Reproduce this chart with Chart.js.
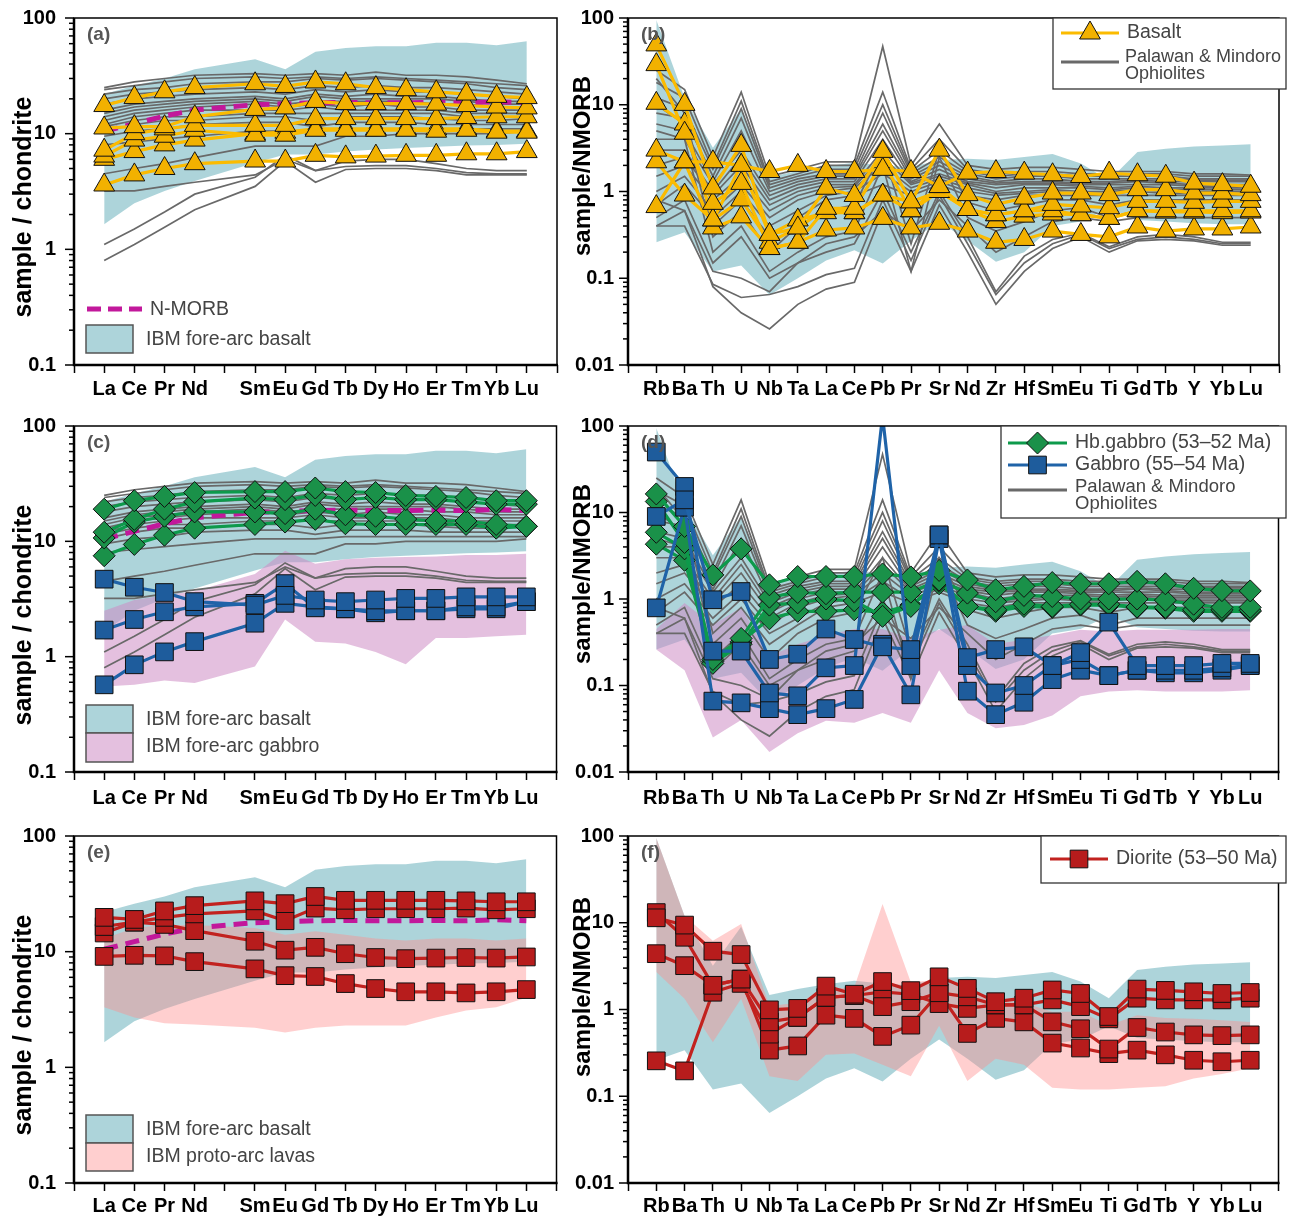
<!DOCTYPE html>
<html>
<head>
<meta charset="utf-8">
<script src="https://cdn.jsdelivr.net/npm/chart.js@4.4.1/dist/chart.umd.min.js"></script>
<style>
  body { margin: 0; background: #fff; width: 1292px; height: 1217px; position: relative; overflow: hidden; }
  canvas { position: absolute; }
</style>
</head>
<body>
<canvas id="pa" width="570" height="410" style="left:0;top:0"></canvas>
<canvas id="pb" width="722" height="410" style="left:570px;top:0"></canvas>
<canvas id="pc" width="570" height="410" style="left:0;top:410px"></canvas>
<canvas id="pd" width="722" height="410" style="left:570px;top:410px"></canvas>
<canvas id="pe" width="570" height="397" style="left:0;top:820px"></canvas>
<canvas id="pf" width="722" height="397" style="left:570px;top:820px"></canvas>
<script>
// categories (Pm slot left empty on the REE axis)
const reeLabels = ['La', 'Ce', 'Pr', 'Nd', '', 'Sm', 'Eu', 'Gd', 'Tb', 'Dy', 'Ho', 'Er', 'Tm', 'Yb', 'Lu'];
const spiderLabels = ['Rb', 'Ba', 'Th', 'U', 'Nb', 'Ta', 'La', 'Ce', 'Pb', 'Pr', 'Sr', 'Nd', 'Zr', 'Hf', 'Sm', 'Eu', 'Ti', 'Gd', 'Tb', 'Y', 'Yb', 'Lu'];
const reeTicks = [0.1, 1, 10, 100];
const spiderTicks = [0.01, 0.1, 1, 10, 100];

// reference fields, chondrite normalised
const forearcBasaltReeHigh = [22, 26, 30, 36, null, 44, 36, 51, 55, 57, 57, 61, 61, 58, 63];
const forearcBasaltReeLow = [1.65, 2.5, 3.2, 3.9, null, 5.6, 6.6, 6.6, 7.0, 7.3, 7.5, 7.7, 7.9, 8.0, 8.2];
const forearcGabbroReeHigh = [2.5, 3.1, 3.4, 3.7, null, 5.2, 8.3, 6.4, 7.0, 7.2, 7.3, 7.4, 7.6, 7.6, 7.8];
const forearcGabbroReeLow = [0.55, 0.57, 0.62, 0.59, null, 0.82, 2.1, 1.35, 1.3, 1.1, 0.86, 1.45, 1.45, 1.5, 1.55];
const protoArcReeHigh = [13, 16, 17, 17, null, 16, 14, 15, 14, 13, 12.5, 13, 13, 12.5, 13];
const protoArcReeLow = [3.3, 2.7, 2.4, 2.35, null, 2.2, 2.0, 2.2, 2.3, 2.3, 2.3, 2.7, 3.1, 3.3, 4.0];
const nmorbRee = [10.5, 12.2, 14.2, 16.0, null, 17.8, 18.1, 18.5, 18.6, 18.5, 18.5, 18.6, 18.5, 18.9, 18.5];

// reference fields, N-MORB normalised
const forearcBasaltSpiderHigh = [95, 12, 3.2, 9, 1.47, 1.72, 1.95, 2.14, 2.0, 1.9, 2.3, 2.38, 2.3, 2.5, 2.7, 2.1, 1.35, 2.85, 3.1, 3.3, 3.4, 3.5];
const forearcBasaltSpiderLow = [0.26, 0.34, 0.12, 0.14, 0.064, 0.1, 0.16, 0.21, 0.148, 0.27, 0.45, 0.27, 0.155, 0.2, 0.4, 0.45, 0.64, 0.47, 0.45, 0.43, 0.42, 0.42];
const forearcGabbroSpiderHigh = [0.45, 0.9, 0.5, 0.8, 0.22, 0.3, 0.38, 0.45, 0.45, 0.35, 0.44, 0.5, 0.3, 0.34, 0.38, 0.44, 0.42, 0.44, 0.44, 0.44, 0.45, 0.45];
const forearcGabbroSpiderLow = [0.26, 0.15, 0.025, 0.04, 0.017, 0.028, 0.039, 0.037, 0.048, 0.037, 0.15, 0.048, 0.032, 0.035, 0.045, 0.075, 0.085, 0.088, 0.085, 0.085, 0.085, 0.088];
const protoArcSpiderHigh = [95, 12, 6.2, 9.7, 1.1, 1.2, 1.7, 1.8, 16.4, 2.06, 2.2, 1.7, 1.3, 1.2, 0.94, 0.94, 0.66, 0.86, 0.8, 0.78, 0.75, 0.72];
const protoArcSpiderLow = [2.7, 1.33, 0.42, 1.33, 0.17, 0.15, 0.3, 0.31, 0.23, 0.17, 0.65, 0.15, 0.27, 0.23, 0.125, 0.12, 0.12, 0.125, 0.13, 0.16, 0.18, 0.21];

// Palawan & Mindoro ophiolites
const ophioliteRee = [
  [25, 28, 30, 32, null, 33, 32, 33, 32, 34, 32, 32, 31, 29, 27],
  [24, 26, 28, 30, null, 31, 30, 31, 30, 31, 30, 29, 28, 27, 26],
  [22, 24, 25, 27, null, 28, 28, 30, 29, 30, 29, 28, 27, 25, 24],
  [20, 22, 23, 24, null, 25, 24, 26, 25, 26, 25, 25, 24, 23, 22],
  [18, 20, 21, 22, null, 23, 22, 24, 23, 24, 23, 23, 22, 21, 20],
  [16, 18, 19, 20, null, 21, 20, 22, 21, 22, 21, 21, 20, 19, 19],
  [15, 17, 18, 19, null, 20, 19, 21, 20, 20, 20, 20, 19, 18, 18],
  [14, 16, 17, 18, null, 19, 18, 19, 19, 19, 19, 18, 18, 17, 17],
  [13, 15, 16, 17, null, 18, 17, 18, 17, 18, 17, 17, 16, 16, 16],
  [12, 14, 15, 16, null, 16, 16, 17, 16, 16, 16, 16, 15, 15, 15],
  [11.5, 13, 14, 14, null, 15, 15, 15, 15, 15, 15, 15, 14, 14, 14],
  [10.5, 12, 13, 13, null, 14, 14, 13, 14, 14, 14, 13.5, 13, 13, 13.5],
  [9.5, 10.5, 11, 12, null, 12.5, 12.5, 11.5, 12.5, 12.5, 12.5, 12, 12, 12, 12],
  [8, 8.5, 9, 9.5, null, 10.5, 10.5, 10.5, 11, 11, 11, 11, 11, 11, 11],
  [4.5, 5, 5.5, 6.2, null, 7.8, 7.8, 7.8, 9.5, 9.5, 10, 10, 10, 10, 10.5],
  [3.2, 3.2, 3.5, 3.8, null, 4.4, 6.0, 4.8, 5.8, 6.0, 6.0, 5.5, 5.0, 4.8, 4.8],
  [1.1, 1.5, 2.1, 3.0, null, 4.2, 6.5, 4.8, 5.2, 5.3, 5.3, 5.0, 4.6, 4.5, 4.5],
  [0.8, 1.1, 1.55, 2.2, null, 3.5, 5.8, 3.8, 4.9, 5.0, 5.0, 4.8, 4.4, 4.4, 4.4]
];
const ophioliteSpider = [
  [25, 15, 2.5, 14, 1.5, 1.8, 2.2, 2.2, 47, 2.0, 6.0, 2.0, 1.8, 1.9, 1.9, 1.8, 1.7, 1.7, 1.7, 1.6, 1.6, 1.55],
  [18, 12, 2.0, 11, 1.3, 1.6, 2.0, 2.0, 14, 1.8, 4.0, 1.8, 1.6, 1.7, 1.7, 1.6, 1.6, 1.6, 1.6, 1.5, 1.5, 1.5],
  [12, 9, 1.8, 9, 1.2, 1.5, 1.8, 1.8, 10, 1.7, 3.0, 1.7, 1.5, 1.6, 1.6, 1.5, 1.5, 1.5, 1.5, 1.4, 1.4, 1.4],
  [8, 7, 1.5, 7, 1.1, 1.4, 1.6, 1.6, 8, 1.6, 2.5, 1.6, 1.4, 1.5, 1.5, 1.4, 1.4, 1.4, 1.4, 1.35, 1.35, 1.35],
  [6, 5, 1.3, 5, 1.0, 1.3, 1.5, 1.5, 6, 1.5, 2.2, 1.5, 1.3, 1.4, 1.4, 1.3, 1.3, 1.35, 1.3, 1.3, 1.3, 1.3],
  [4, 4, 1.2, 3, 0.9, 1.2, 1.4, 1.4, 5, 1.4, 2.0, 1.4, 1.25, 1.3, 1.3, 1.25, 1.25, 1.3, 1.25, 1.2, 1.2, 1.2],
  [3, 3, 1.0, 2.5, 0.8, 1.1, 1.3, 1.3, 4, 1.3, 1.8, 1.3, 1.2, 1.25, 1.25, 1.2, 1.2, 1.2, 1.2, 1.15, 1.15, 1.15],
  [2, 2.5, 0.9, 2, 0.7, 1.0, 1.2, 1.2, 3, 1.25, 1.6, 1.25, 1.1, 1.2, 1.2, 1.15, 1.1, 1.15, 1.1, 1.1, 1.1, 1.1],
  [1.5, 2, 0.8, 1.5, 0.6, 0.9, 1.1, 1.15, 2.5, 1.2, 1.5, 1.2, 1.0, 1.1, 1.1, 1.1, 1.05, 1.1, 1.05, 1.05, 1.05, 1.05],
  [1.0, 1.5, 0.6, 1.2, 0.5, 0.8, 1.0, 1.1, 2.0, 1.1, 1.4, 1.1, 0.95, 1.0, 1.05, 1.0, 1.0, 1.05, 1.0, 1.0, 1.0, 1.0],
  [0.7, 1.2, 0.5, 1.0, 0.4, 0.6, 0.9, 1.0, 1.6, 1.0, 1.3, 1.0, 0.9, 0.95, 1.0, 0.95, 0.95, 1.0, 0.95, 0.95, 0.95, 0.95],
  [20, 8, 0.4, 0.8, 0.3, 0.5, 0.8, 0.9, 1.2, 0.9, 1.2, 0.9, 0.8, 0.9, 0.9, 0.9, 0.9, 0.9, 0.9, 0.9, 0.9, 0.9],
  [10, 6, 0.3, 0.6, 0.2, 0.4, 0.6, 0.7, 3.0, 0.25, 3.0, 0.75, 0.6, 0.7, 0.8, 0.8, 0.7, 0.8, 0.8, 0.8, 0.8, 0.8],
  [5, 4, 0.2, 0.4, 0.12, 0.2, 0.3, 0.35, 2.0, 0.12, 2.5, 0.5, 0.35, 0.45, 0.6, 0.65, 0.5, 0.6, 0.6, 0.6, 0.6, 0.6],
  [0.5, 0.8, 0.15, 0.3, 0.1, 0.15, 0.25, 0.3, 0.6, 0.35, 0.8, 0.4, 0.2, 0.3, 0.45, 0.5, 0.45, 0.5, 0.5, 0.5, 0.5, 0.5],
  [0.4, 0.6, 0.08, 0.04, 0.026, 0.05, 0.075, 0.09, 0.6, 0.12, 0.7, 0.2, 0.05, 0.12, 0.22, 0.3, 0.2, 0.27, 0.28, 0.27, 0.24, 0.24],
  [0.4, 0.4, 0.085, 0.06, 0.065, 0.08, 0.11, 0.13, 0.8, 0.16, 0.9, 0.25, 0.065, 0.15, 0.25, 0.32, 0.22, 0.28, 0.3, 0.28, 0.25, 0.25],
  [0.8, 0.6, 0.12, 0.1, 0.07, 0.15, 0.2, 0.25, 1.0, 0.2, 1.0, 0.3, 0.07, 0.18, 0.28, 0.33, 0.23, 0.3, 0.32, 0.3, 0.26, 0.26]
];

// samples
const basaltRee = [
  [17.5, 20.5, 23, 25, null, 27, 25.6, 28, 27, 25, 24, 23, 22, 21, 20.5],
  [11.2, 11.5, 11.5, 14, null, 16.2, 16.7, 19, 18.2, 18.2, 18.2, 18, 17.5, 17, 16.7],
  [7.2, 10, 11, 11.8, null, 11.8, 11.8, 13.5, 13.5, 13.5, 13.5, 13.5, 13.8, 14, 14],
  [6.4, 8.8, 9.5, 10.7, null, 9.7, 9.7, 10.7, 10.7, 10.7, 10.7, 10.5, 10.7, 10.3, 10.3],
  [6.0, 7.0, 8.0, 8.8, null, 10, 10.3, 11, 11, 11, 11, 11, 11, 10.5, 10.5],
  [3.6, 4.4, 5.0, 5.5, null, 5.8, 5.8, 6.5, 6.3, 6.4, 6.5, 6.5, 6.7, 6.7, 7.0]
];
const basaltSpider = [
  [3.0, 2.2, 2.2, 2.0, 1.7, 2.0, 1.7, 1.7, 1.8, 1.7, 1.14, 1.63, 1.7, 1.63, 1.56, 1.49, 1.63, 1.56, 1.5, 1.25, 1.2, 1.15],
  [49, 10.1, 1.1, 3.4, 0.32, 0.38, 1.09, 0.9, 2.9, 0.76, 3.0, 0.92, 0.71, 0.84, 0.96, 0.96, 0.92, 1.05, 1.05, 0.96, 0.96, 0.92],
  [29, 4.7, 0.73, 1.24, 0.22, 0.26, 0.64, 0.64, 2.2, 0.6, 1.14, 0.62, 0.54, 0.6, 0.71, 0.68, 0.65, 0.77, 0.77, 0.75, 0.77, 0.77],
  [10.4, 6.0, 0.47, 2.0, 0.32, 0.47, 0.57, 0.57, 0.91, 0.6, 1.0, 0.62, 0.54, 0.6, 0.6, 0.54, 0.49, 0.6, 0.6, 0.6, 0.6, 0.6],
  [2.2, 0.91, 0.47, 0.8, 0.26, 0.38, 0.64, 0.57, 0.91, 0.76, 1.0, 0.62, 0.45, 0.52, 0.55, 0.54, 0.49, 0.6, 0.58, 0.58, 0.57, 0.58],
  [0.67, 2.2, 0.38, 0.51, 0.22, 0.26, 0.36, 0.38, 0.49, 0.38, 0.43, 0.35, 0.26, 0.28, 0.35, 0.32, 0.3, 0.39, 0.35, 0.37, 0.37, 0.39]
];
const hbGabbroRee = [
  [19, 22.5, 24.5, 26.5, null, 27, 27, 29, 27, 26.5, 25, 24.5, 24, 22.5, 22.5],
  [12, 15.5, 19, 22, null, 23.7, 23, 25, 23, 24, 23, 23, 22, 21, 21],
  [10.7, 14.7, 16.5, 18, null, 18, 17.4, 19, 17, 16.5, 15.6, 15, 15, 14, 13.5],
  [7.5, 9.4, 11.3, 13, null, 14, 14.7, 15.5, 14.2, 14, 14, 14, 14, 13, 13.5]
];
const hbGabbroSpider = [
  [16.4, 6.9, 1.9, 3.8, 1.46, 1.82, 1.82, 1.82, 1.95, 1.8, 2.14, 1.66, 1.28, 1.4, 1.55, 1.5, 1.5, 1.6, 1.5, 1.33, 1.25, 1.24],
  [13.4, 4.5, 0.2, 0.35, 1.05, 1.19, 1.15, 1.2, 1.2, 1.2, 1.66, 1.17, 0.93, 1.1, 1.07, 1.0, 1.0, 1.0, 0.97, 0.87, 0.8, 0.8],
  [5.9, 3.8, 0.18, 0.3, 0.85, 0.9, 1.0, 0.95, 0.63, 0.82, 1.6, 0.82, 0.75, 0.87, 0.82, 0.87, 0.87, 0.81, 0.8, 0.75, 0.75, 0.74],
  [4.3, 2.8, 0.19, 0.32, 0.59, 0.72, 0.72, 0.75, 0.7, 0.85, 1.5, 0.82, 0.72, 0.82, 0.8, 0.85, 0.85, 0.8, 0.78, 0.72, 0.72, 0.72]
];
const gabbroRee = [
  [4.7, 4.0, 3.6, 3.0, null, 2.8, 3.4, 3.1, 3.0, 3.1, 3.2, 3.2, 3.3, 3.3, 3.3],
  [1.7, 2.1, 2.45, 2.7, null, 2.9, 4.3, 2.65, 2.6, 2.5, 2.5, 2.5, 2.7, 2.7, 3.0],
  [0.57, 0.85, 1.1, 1.35, null, 1.95, 2.9, 2.7, 2.6, 2.4, 2.5, 2.5, 2.6, 2.6, 3.0]
];
const gabbroSpider = [
  [9.0, 14, 0.98, 1.22, 0.2, 0.23, 0.45, 0.34, 0.28, 0.26, 5.5, 0.21, 0.26, 0.28, 0.17, 0.24, 0.54, 0.17, 0.17, 0.17, 0.18, 0.18],
  [50, 20, 0.25, 0.25, 0.082, 0.076, 0.16, 0.17, 130, 0.17, 5.5, 0.17, 0.082, 0.1, 0.17, 0.2, 0.13, 0.15, 0.15, 0.15, 0.16, 0.17],
  [0.79, 11.5, 0.066, 0.063, 0.054, 0.046, 0.054, 0.069, 0.3, 0.078, 5.0, 0.086, 0.046, 0.064, 0.117, 0.15, 0.13, 0.15, 0.14, 0.14, 0.15, 0.17]
];
const dioriteRee = [
  [19.8, 19, 22.5, 25, null, 27.5, 26, 30, 27.8, 27.8, 27.8, 27.8, 27.5, 27, 27],
  [16.5, 18, 19.8, 21.2, null, 22.5, 18.5, 23.8, 23, 23.5, 23.5, 23.5, 23.8, 23, 23.5],
  [14.5, 18, 17.2, 15.2, null, 12.3, 10.3, 10.9, 9.6, 8.9, 8.7, 8.8, 8.9, 8.8, 9.0],
  [9.1, 9.3, 9.2, 8.2, null, 7.1, 6.2, 6.1, 5.3, 4.8, 4.5, 4.5, 4.4, 4.5, 4.7]
];
const dioriteSpider = [
  [11.4, 9.4, 4.7, 4.3, 0.99, 1.03, 1.86, 1.5, 2.1, 1.65, 2.38, 1.75, 1.23, 1.35, 1.68, 1.53, 0.83, 1.72, 1.66, 1.6, 1.53, 1.57],
  [13.1, 6.8, 1.9, 2.24, 0.72, 0.81, 1.38, 1.45, 1.08, 1.23, 1.56, 1.4, 1.13, 1.13, 1.29, 1.08, 0.78, 1.35, 1.29, 1.29, 1.29, 1.35],
  [0.256, 0.196, 1.58, 2.0, 0.52, 0.81, 1.38, 1.45, 1.6, 1.5, 1.17, 1.03, 1.13, 1.13, 0.72, 0.6, 0.35, 0.62, 0.55, 0.51, 0.5, 0.51],
  [4.4, 3.2, 1.9, 2.24, 0.34, 0.38, 0.86, 0.79, 0.49, 0.66, 1.56, 0.53, 0.79, 0.72, 0.41, 0.36, 0.31, 0.34, 0.30, 0.26, 0.25, 0.26]
];

// styles
const FONT = '"Liberation Sans", Arial, Helvetica, sans-serif';
const TEAL = 'rgba(118, 184, 194, 0.6)';
const GABBRO_PINK = 'rgba(205, 140, 196, 0.55)';
const PROTO_PINK = 'rgba(255, 140, 140, 0.42)';
const MORB = '#c2189b';
const GRAY = '#696969';
const basaltStyle = { line: '#fbbb00', fill: '#f2b100', shape: 'triangle', r: 12 };
const hbStyle = { line: '#0d9a4b', fill: '#1a9149', shape: 'rectRot', r: 11 };
const gabbroStyle = { line: '#1f63a8', fill: '#1e5c9c', shape: 'rect', r: 12.5 };
const dioriteStyle = { line: '#c2221f', fill: '#b71c1c', shape: 'rect', r: 12.5 };

function pts(vals) {
    const out = [];
    vals.forEach((v, i) => { if (v !== null) out.push({ x: i, y: v }); });
    return out;
}

function fieldSets(high, low, color, order) {
    return [
        { data: pts(high), fill: '+1', backgroundColor: color, borderColor: 'rgba(0,0,0,0)', borderWidth: 0, pointRadius: 0, order: order },
        { data: pts(low), fill: false, borderColor: 'rgba(0,0,0,0)', borderWidth: 0, pointRadius: 0, order: order }
    ];
}

function graySets(rows) {
    return rows.map(r => ({ data: pts(r), borderColor: GRAY, borderWidth: 1.7, pointRadius: 0, fill: false, order: 3 }));
}

function sampleSets(rows, st) {
    return rows.map(r => ({
        data: pts(r), borderColor: st.line, borderWidth: 3.2, fill: false, order: 1,
        pointStyle: st.shape, pointRadius: st.r, pointBackgroundColor: st.fill,
        pointBorderColor: '#111', pointBorderWidth: 1
    }));
}

function morbSet() {
    return { data: pts(nmorbRee), borderColor: MORB, borderWidth: 5, borderDash: [14, 8], pointRadius: 0, fill: false, order: 2 };
}

// text, frame and legends drawn on top of each panel
const decor = {};
const panelDecor = {
    id: 'panelDecor',
    afterDraw(chart) {
        const d = decor[chart.canvas.id];
        const ctx = chart.ctx, a = chart.chartArea, y = chart.scales.y;
        ctx.save();
        ctx.strokeStyle = '#000';
        ctx.lineWidth = 1.5;
        ctx.strokeRect(a.left, a.top, a.right - a.left, a.bottom - a.top);
        ctx.lineWidth = 2.5;
        ctx.beginPath();
        ctx.moveTo(a.left, a.top);
        ctx.lineTo(a.left, a.bottom);
        ctx.lineTo(a.right + 1, a.bottom);
        ctx.stroke();

        // log ticks
        ctx.lineWidth = 1.5;
        const e0 = Math.round(Math.log10(y.min)), e1 = Math.round(Math.log10(y.max));
        for (let e = e0; e <= e1; e++) {
            for (let k = 1; k < 10; k++) {
                const v = k * Math.pow(10, e);
                if (v > y.max * 1.0001) break;
                const py = y.getPixelForValue(v);
                const len = k === 1 ? 9 : 5;
                ctx.beginPath();
                ctx.moveTo(a.left - len, py);
                ctx.lineTo(a.left, py);
                ctx.stroke();
            }
        }

        // panel tag
        ctx.fillStyle = '#555';
        ctx.font = 'bold 19px ' + FONT;
        ctx.textAlign = 'left';
        ctx.textBaseline = 'middle';
        ctx.fillText(d.tag, a.left + 13, a.top + 17);

        // axis title
        ctx.save();
        ctx.translate(d.titleX, d.titleY);
        ctx.rotate(-Math.PI / 2);
        ctx.fillStyle = '#000';
        ctx.font = 'bold ' + d.titleSize + 'px ' + FONT;
        ctx.textAlign = 'center';
        ctx.textBaseline = 'alphabetic';
        ctx.fillText(d.title, 0, 0);
        ctx.restore();

        // legend
        if (d.box) {
            ctx.fillStyle = '#fff';
            ctx.fillRect(d.box.x, d.box.y, d.box.w, d.box.h);
            ctx.strokeStyle = '#333';
            ctx.lineWidth = 1.3;
            ctx.strokeRect(d.box.x, d.box.y, d.box.w, d.box.h);
        }
        ctx.textAlign = 'left';
        ctx.textBaseline = 'middle';
        d.items.forEach(it => {
            if (it.kind === 'series') {
                ctx.strokeStyle = it.st.line;
                ctx.lineWidth = 3.2;
                ctx.setLineDash([]);
                ctx.beginPath();
                ctx.moveTo(it.x1, it.y);
                ctx.lineTo(it.x2, it.y);
                ctx.stroke();
                ctx.fillStyle = it.st.fill;
                ctx.strokeStyle = '#111';
                ctx.lineWidth = 1;
                Chart.helpers.drawPoint(ctx, { pointStyle: it.st.shape, radius: it.st.r, rotation: 0, borderWidth: 1 }, (it.x1 + it.x2) / 2, it.y);
            } else if (it.kind === 'line') {
                ctx.strokeStyle = GRAY;
                ctx.lineWidth = 3;
                ctx.setLineDash([]);
                ctx.beginPath();
                ctx.moveTo(it.x1, it.y);
                ctx.lineTo(it.x2, it.y);
                ctx.stroke();
            } else if (it.kind === 'dash') {
                ctx.strokeStyle = MORB;
                ctx.lineWidth = 5;
                ctx.setLineDash([14, 7]);
                ctx.beginPath();
                ctx.moveTo(it.x1, it.y);
                ctx.lineTo(it.x2, it.y);
                ctx.stroke();
                ctx.setLineDash([]);
            } else if (it.kind === 'patch') {
                ctx.fillStyle = '#fff';
                ctx.fillRect(it.x, it.y, it.w, it.h);
                ctx.fillStyle = it.color;
                ctx.fillRect(it.x, it.y, it.w, it.h);
                ctx.strokeStyle = '#555';
                ctx.lineWidth = 1.5;
                ctx.strokeRect(it.x, it.y, it.w, it.h);
            }
            ctx.fillStyle = '#444';
            ctx.font = (it.size || 19.5) + 'px ' + FONT;
            (it.texts || []).forEach(t => ctx.fillText(t[0], t[1], t[2]));
        });
        ctx.restore();
    }
};

function makePanel(id, cfg) {
    decor[id] = cfg.decor;
    const n = cfg.labels.length;
    return new Chart(document.getElementById(id), {
        type: 'line',
        data: { datasets: cfg.datasets },
        options: {
            responsive: false,
            animation: false,
            events: [],
            layout: { padding: { top: cfg.top, right: cfg.right, left: 0, bottom: 0 } },
            plugins: { legend: { display: false }, tooltip: { enabled: false } },
            scales: {
                x: {
                    type: 'linear', min: -1, max: n,
                    afterBuildTicks: s => {
                        const t = [];
                        for (let i = -1; i <= n; i++) t.push({ value: i });
                        s.ticks = t;
                    },
                    afterFit: s => {
                        s.height = cfg.xHeight;
                        s.paddingLeft = 0;
                        s.paddingRight = 0;
                    },
                    ticks: {
                        autoSkip: false, maxRotation: 0, minRotation: 0, padding: cfg.xPad, color: '#000',
                        font: { family: FONT, size: 20, weight: 'bold' },
                        callback: v => cfg.labels[v] || ''
                    },
                    grid: { display: true, drawOnChartArea: false, drawTicks: true, tickLength: 8, color: '#000', tickColor: '#000', tickWidth: 1.5 },
                    border: { display: false }
                },
                y: {
                    type: 'logarithmic', min: cfg.yTicks[0], max: 100,
                    afterBuildTicks: s => { s.ticks = cfg.yTicks.map(v => ({ value: v })); },
                    afterFit: s => {
                        s.width = cfg.yWidth;
                        s.paddingTop = 0;
                        s.paddingBottom = 0;
                    },
                    ticks: {
                        autoSkip: false, padding: cfg.yPad, color: '#000',
                        font: { family: FONT, size: 20, weight: 'bold' },
                        callback: v => String(v)
                    },
                    grid: { display: false },
                    border: { display: false }
                }
            }
        },
        plugins: [panelDecor]
    });
}

const leftBase = { labels: reeLabels, yTicks: reeTicks, yWidth: 74, yPad: 10, right: 11.5 };
const rightBase = { labels: spiderLabels, yTicks: spiderTicks, yWidth: 58, yPad: 6, right: 6 };

// (a) basalt REE
makePanel('pa', Object.assign({}, leftBase, {
    top: 18, xHeight: 45, xPad: 4,
    datasets: [].concat(
        fieldSets(forearcBasaltReeHigh, forearcBasaltReeLow, TEAL, 5),
        graySets(ophioliteRee),
        [morbSet()],
        sampleSets(basaltRee, basaltStyle)
    ),
    decor: {
        tag: '(a)', title: 'sample / chondrite', titleX: 31, titleY: 207, titleSize: 25,
        items: [
            { kind: 'dash', x1: 87, x2: 142, y: 309, texts: [['N-MORB', 150, 310]] },
            { kind: 'patch', x: 86, y: 325, w: 47, h: 28, color: TEAL, texts: [['IBM fore-arc basalt', 146, 340]] }
        ]
    }
}));

// (b) basalt spider
makePanel('pb', Object.assign({}, rightBase, {
    top: 18, xHeight: 45, xPad: 4,
    datasets: [].concat(
        fieldSets(forearcBasaltSpiderHigh, forearcBasaltSpiderLow, TEAL, 5),
        graySets(ophioliteSpider),
        sampleSets(basaltSpider, basaltStyle)
    ),
    decor: {
        tag: '(b)', title: 'sample/NMORB', titleX: 20, titleY: 166, titleSize: 24,
        box: { x: 483, y: 18, w: 233, h: 71 },
        items: [
            { kind: 'series', st: basaltStyle, x1: 491, x2: 549, y: 33, size: 19.5, texts: [['Basalt', 557, 33]] },
            { kind: 'line', x1: 491, x2: 549, y: 62, size: 18, texts: [['Palawan & Mindoro', 555, 57], ['Ophiolites', 555, 74]] }
        ]
    }
}));

// (c) gabbros REE
makePanel('pc', Object.assign({}, leftBase, {
    top: 16, xHeight: 48, xPad: 6,
    datasets: [].concat(
        fieldSets(forearcBasaltReeHigh, forearcBasaltReeLow, TEAL, 5),
        fieldSets(forearcGabbroReeHigh, forearcGabbroReeLow, GABBRO_PINK, 4),
        graySets(ophioliteRee),
        [morbSet()],
        sampleSets(gabbroRee, gabbroStyle),
        sampleSets(hbGabbroRee, hbStyle)
    ),
    decor: {
        tag: '(c)', title: 'sample / chondrite', titleX: 31, titleY: 205, titleSize: 25,
        items: [
            { kind: 'patch', x: 86, y: 295, w: 47, h: 28, color: TEAL, texts: [['IBM fore-arc basalt', 146, 310]] },
            { kind: 'patch', x: 86, y: 323, w: 47, h: 29, color: GABBRO_PINK, texts: [['IBM fore-arc gabbro', 146, 337]] }
        ]
    }
}));

// (d) gabbros spider
makePanel('pd', Object.assign({}, rightBase, {
    top: 16, xHeight: 48, xPad: 6,
    datasets: [].concat(
        fieldSets(forearcBasaltSpiderHigh, forearcBasaltSpiderLow, TEAL, 5),
        fieldSets(forearcGabbroSpiderHigh, forearcGabbroSpiderLow, GABBRO_PINK, 4),
        graySets(ophioliteSpider),
        sampleSets(gabbroSpider, gabbroStyle),
        sampleSets(hbGabbroSpider, hbStyle)
    ),
    decor: {
        tag: '(d)', title: 'sample/NMORB', titleX: 20, titleY: 164, titleSize: 24,
        box: { x: 431, y: 16, w: 285, h: 92 },
        items: [
            { kind: 'series', st: hbStyle, x1: 438, x2: 497, y: 33, texts: [['Hb.gabbro (53\u201352 Ma)', 505, 33]] },
            { kind: 'series', st: gabbroStyle, x1: 438, x2: 497, y: 55, texts: [['Gabbro (55\u201354 Ma)', 505, 55]] },
            { kind: 'line', x1: 438, x2: 497, y: 80, size: 18.5, texts: [['Palawan & Mindoro', 505, 77], ['Ophiolites', 505, 94]] }
        ]
    }
}));

// (e) diorite REE
makePanel('pe', Object.assign({}, leftBase, {
    top: 16, xHeight: 34, xPad: 3,
    datasets: [].concat(
        fieldSets(forearcBasaltReeHigh, forearcBasaltReeLow, TEAL, 5),
        fieldSets(protoArcReeHigh, protoArcReeLow, PROTO_PINK, 4),
        [morbSet()],
        sampleSets(dioriteRee, dioriteStyle)
    ),
    decor: {
        tag: '(e)', title: 'sample / chondrite', titleX: 31, titleY: 205, titleSize: 25,
        items: [
            { kind: 'patch', x: 86, y: 295, w: 47, h: 28, color: TEAL, texts: [['IBM fore-arc basalt', 146, 310]] },
            { kind: 'patch', x: 86, y: 323, w: 47, h: 28, color: PROTO_PINK, texts: [['IBM proto-arc lavas', 146, 337]] }
        ]
    }
}));

// (f) diorite spider
makePanel('pf', Object.assign({}, rightBase, {
    top: 16, xHeight: 34, xPad: 3,
    datasets: [].concat(
        fieldSets(forearcBasaltSpiderHigh, forearcBasaltSpiderLow, TEAL, 5),
        fieldSets(protoArcSpiderHigh, protoArcSpiderLow, PROTO_PINK, 4),
        sampleSets(dioriteSpider, dioriteStyle)
    ),
    decor: {
        tag: '(f)', title: 'sample/NMORB', titleX: 20, titleY: 167, titleSize: 24,
        box: { x: 471, y: 16, w: 245, h: 47 },
        items: [
            { kind: 'series', st: dioriteStyle, x1: 480, x2: 538, y: 39, texts: [['Diorite (53\u201350 Ma)', 546, 39]] }
        ]
    }
}));
</script>
</body>
</html>
